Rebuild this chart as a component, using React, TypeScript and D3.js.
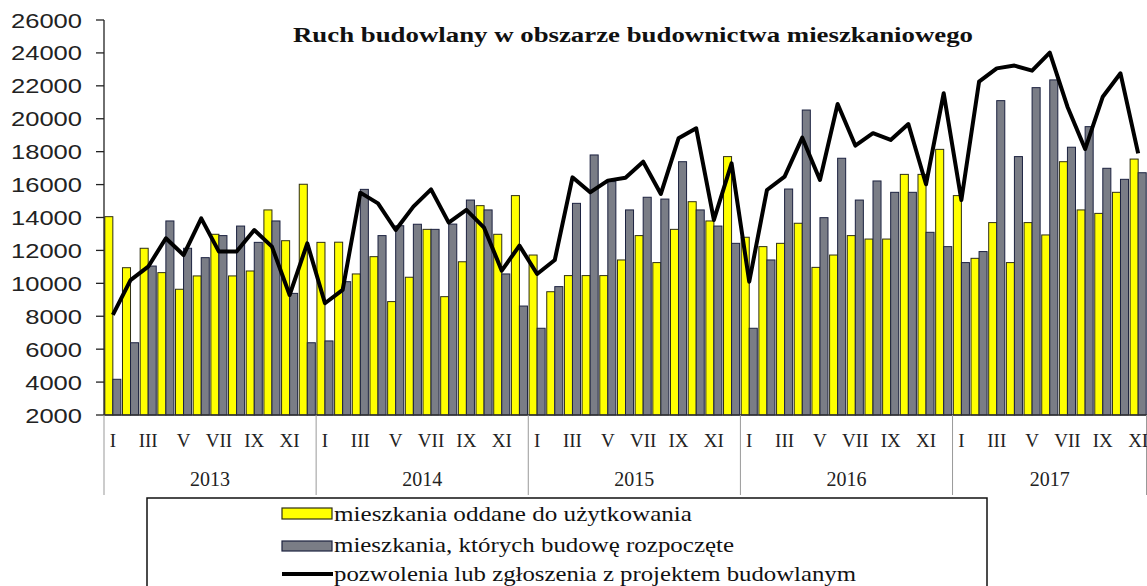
import React from "react";
import * as d3 from "d3";

const years = ["2013", "2014", "2015", "2016", "2017"];
const monthNames = ["I", "II", "III", "IV", "V", "VI", "VII", "VIII", "IX", "X", "XI", "XII"];

// mieszkania oddane do użytkowania
const completed = [
  14050, 10950, 12130, 10650, 9640, 10450, 12980, 10450, 10750, 14460, 12590, 16020,
  12490, 12500, 10570, 11620, 8890, 10370, 13280, 9190, 11310, 14720, 12980, 15330,
  11720, 9490, 10470, 10470, 10470, 11420, 12900, 11260, 13280, 14960, 13790, 17700,
  12800, 12230, 12430, 13650, 10970, 11720, 12900, 12690, 12690, 16620, 16620, 18140,
  15330, 11520, 13690, 11260, 13690, 12940, 17390, 14460, 14250, 15530, 17550,
];
// mieszkania, których budowę rozpoczęte
const started = [
  4170, 6390, 11050, 13790, 12130, 11560, 12900, 13480, 12490, 13790, 9390, 6390,
  6500, 10100, 15710, 12900, 13500, 13590, 13280, 13600, 15060, 14460, 10570, 8620,
  7270, 9800, 14860, 17800, 16180, 14460, 15230, 15120, 17390, 14460, 13480, 12430,
  7270, 11420, 15730, 20530, 13990, 17600, 15060, 16220, 15530, 15530, 13100, 12230,
  11260, 11930, 21100, 17700, 21890, 22360, 18270, 19520, 16990, 16320, 16720,
];
// pozwolenia lub zgłoszenia z projektem budowlanym
const permits = [
  8080, 10200, 11010, 12740, 11720, 13950, 11930, 11930, 13240, 12230, 9290, 12430,
  8790, 9600, 15510, 14860, 13240, 14660, 15710, 13690, 14460, 13380, 10770, 12290,
  10570, 11420, 16440, 15530, 16240, 16420, 17390, 15430, 18810, 19420, 13850, 17290,
  10100, 15670, 16480, 18850, 16280, 20900, 18370, 19120, 18710, 19680, 16020, 21550,
  15060, 22250, 23060, 23230, 22920, 24020, 20730, 18160, 21340, 22760, 17900,
];

const yTicks = d3.range(2000, 26001, 2000);
const titleText = "Ruch budowlany w obszarze budownictwa mieszkaniowego";
const legendLabels = [
  "mieszkania oddane do użytkowania",
  "mieszkania, których budowę rozpoczęte",
  "pozwolenia lub zgłoszenia z projektem budowlanym",
];

const W = 1147;
const H = 586;
const left = 104;
const right = 1147;
const top = 20;
const bottom = 415;

export default function App() {
  const idx = completed.map((_, i) => i);
  const x = d3.scaleBand<number>().domain(idx).range([left, right]).paddingInner(0).paddingOuter(0);
  const bw = x.bandwidth();
  const y = d3.scaleLinear().domain([2000, 26000]).range([bottom, top]);
  const line = d3
    .line<number>()
    .x((_, i) => (x(i) as number) + bw / 2)
    .y((d) => y(d));

  const yearStarts = years.map((_, k) => x(k * 12) as number);
  const serif = "'Liberation Serif', 'Times New Roman', serif";
  const sans = "'Liberation Sans', Arial, sans-serif";

  return (
    <svg
      width={W}
      height={H}
      style={{ position: "absolute", left: 0, top: 0, background: "#fff" }}
    >
      <rect x={0} y={0} width={W} height={H} fill="#fff" />
      {/* title */}
      <text
        x={293}
        y={42}
        fontFamily={serif}
        fontWeight="bold"
        fontSize={20}
        textLength={680}
        lengthAdjust="spacingAndGlyphs"
        fill="#111"
      >
        {titleText}
      </text>

      {/* bars */}
      {idx.map((i) => {
        const x0 = x(i) as number;
        return (
          <g key={i}>
            <rect
              x={x0 + 0.8}
              y={y(completed[i])}
              width={bw / 2 - 0.8}
              height={bottom - y(completed[i])}
              fill="#ffff00"
              stroke="#2e2e14"
              strokeWidth={1}
            />
            <rect
              x={x0 + bw / 2}
              y={y(started[i])}
              width={bw / 2 - 0.8}
              height={bottom - y(started[i])}
              fill="#7a7d86"
              stroke="#1c2240"
              strokeWidth={1}
            />
          </g>
        );
      })}

      {/* permits line */}
      <path
        d={line(permits) || ""}
        fill="none"
        stroke="#000"
        strokeWidth={4}
        strokeLinejoin="round"
      />

      {/* y axis */}
      <line x1={left} x2={left} y1={top} y2={bottom} stroke="#222" strokeWidth={1.3} />
      {yTicks.map((t) => (
        <g key={t}>
          <line x1={96} x2={left} y1={y(t)} y2={y(t)} stroke="#222" strokeWidth={1.3} />
          <text
            x={82}
            y={y(t) + 7.5}
            textAnchor="end"
            fontFamily={sans}
            fontSize={21}
            fill="#222"
            textLength={String(t).length * 14.2}
            lengthAdjust="spacingAndGlyphs"
          >
            {t}
          </text>
        </g>
      ))}

      {/* x axis */}
      <line x1={left} x2={right} y1={bottom} y2={bottom} stroke="#333" strokeWidth={1.3} />
      {[...yearStarts, right - 0.5].map((sx, k) => (
        <line key={k} x1={sx} x2={sx} y1={bottom} y2={495} stroke="#999" strokeWidth={1} />
      ))}
      {idx.map((i) =>
        i % 2 === 0 ? (
          <text
            key={i}
            x={(x(i) as number) + bw / 2}
            y={447}
            textAnchor="middle"
            fontFamily={serif}
            fontSize={19}
            fill="#222"
          >
            {monthNames[i % 12]}
          </text>
        ) : null
      )}
      {years.map((yr, k) => {
        const s = yearStarts[k];
        const e = k < years.length - 1 ? yearStarts[k + 1] : right;
        return (
          <text
            key={yr}
            x={(s + e) / 2}
            y={486}
            textAnchor="middle"
            fontFamily={serif}
            fontSize={20}
            fill="#222"
          >
            {yr}
          </text>
        );
      })}

      {/* legend */}
      <rect x={147} y={498} width={840} height={120} fill="none" stroke="#111" strokeWidth={1.5} />
      <rect x={282} y={508} width={50} height={11} fill="#ffff00" stroke="#2e2e14" strokeWidth={1.2} />
      <rect x={282} y={541} width={50} height={10} fill="#7a7d86" stroke="#1c2240" strokeWidth={1.2} />
      <line x1={282} x2={333} y1={574} y2={574} stroke="#000" strokeWidth={4} />
      {legendLabels.map((lab, k) => (
        <text
          key={k}
          x={334}
          y={[521, 552, 581][k]}
          fontFamily={serif}
          fontSize={21}
          fill="#111"
          textLength={[358, 400, 522][k]}
          lengthAdjust="spacingAndGlyphs"
        >
          {lab}
        </text>
      ))}
    </svg>
  );
}
